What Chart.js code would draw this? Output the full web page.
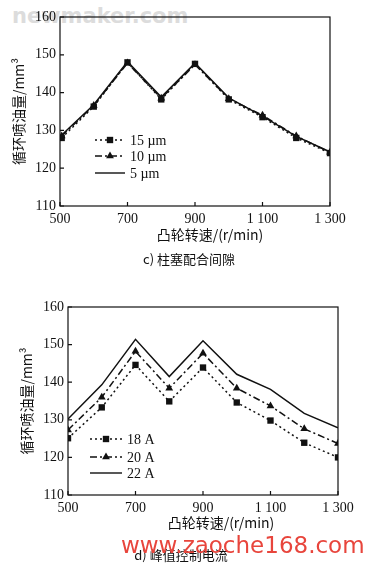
<!DOCTYPE html>
<html><head><meta charset="utf-8">
<script src="https://cdn.jsdelivr.net/npm/chart.js@4/dist/chart.umd.min.js"></script>
<style>
html,body{margin:0;padding:0;background:#fff;}
body{width:373px;height:565px;position:relative;overflow:hidden;}
.abs{position:absolute;white-space:nowrap;line-height:1;}
.ctr{transform:translate(-50%,-50%);}
canvas{position:absolute;left:0;}
</style></head><body>
<div class="abs" style="left:12px;top:4px;font:bold 21px 'DejaVu Sans';color:#dcdcdc;">newmaker.com</div>
<canvas id="c1" width="373" height="230" style="top:0px"></canvas>
<canvas id="c2" width="373" height="229" style="top:290px"></canvas>
<div class="abs ctr" style="left:210px;top:234px;font:14px 'Noto Sans CJK SC';color:#111;">凸轮转速/(r/min)</div>
<div class="abs ctr" style="left:189px;top:258px;font:13px 'Noto Sans CJK SC';color:#111;">c) 柱塞配合间隙</div>
<div class="abs ctr" style="left:221px;top:522px;font:14px 'Noto Sans CJK SC';color:#111;">凸轮转速/(r/min)</div>
<div class="abs ctr" style="left:181px;top:554px;font:13px 'Noto Sans CJK SC';color:#111;">d) 峰值控制电流</div>
<div class="abs" style="left:121px;top:532px;font:23px 'DejaVu Sans';color:#e8453c;">www.zaoche168.com</div>
<script>
// ---- data ----
const speedsC = [505, 600, 700, 800, 900, 1000, 1100, 1200, 1300];
const clearance15 = [128, 136.3, 148, 138.2, 147.6, 138.2, 133.5, 128, 124];
const clearance10 = [128.5, 136.6, 147.8, 138.5, 147.4, 138.4, 134, 128.5, 124.2];
const clearance5 = [128.8, 136.8, 148.2, 138.8, 147.8, 138.6, 133.8, 128.4, 124.3];
const speedsD = [500, 600, 700, 800, 900, 1000, 1100, 1200, 1300];
const current18 = [125.1, 133.3, 144.6, 134.9, 143.9, 134.6, 129.8, 123.9, 120];
const current20 = [127.3, 136, 148.2, 138.4, 147.7, 138.4, 133.7, 127.6, 123.7];
const current22 = [130.2, 139.3, 151.4, 141.5, 151, 142.1, 138.1, 131.7, 127.9];
const labelsC = ['15 µm', '10 µm', '5 µm'];
const labelsD = ['18 A', '20 A', '22 A'];
const xTickLabels = ['500', '700', '900', '1 100', '1 300'];
const yTitle = '循环喷油量/mm³';

const INK = '#111';
const styles = [
  {dash: [2, 3], point: 'rect'},
  {dash: [7, 3, 2, 3], point: 'triangle'},
  {dash: [], point: false}
];

function mkData(xs, ys) { return xs.map((x, i) => ({x: x, y: ys[i]})); }

function drawMarker(ctx, type, x, y, r) {
  ctx.save();
  ctx.fillStyle = INK;
  ctx.beginPath();
  if (type === 'rect') {
    const s = r * Math.SQRT1_2;
    ctx.rect(x - s, y - s, 2 * s, 2 * s);
  } else if (type === 'triangle') {
    ctx.moveTo(x, y - r);
    ctx.lineTo(x + r * 0.87, y + r * 0.5);
    ctx.lineTo(x - r * 0.87, y + r * 0.5);
    ctx.closePath();
  }
  ctx.fill();
  ctx.restore();
}

const framePlugin = {
  id: 'frame',
  afterDraw(chart, args, opts) {
    const {ctx, chartArea: a, scales} = chart;
    ctx.save();
    ctx.strokeStyle = INK;
    ctx.lineWidth = 1.2;
    ctx.strokeRect(a.left, a.top, a.right - a.left, a.bottom - a.top);
    ctx.beginPath();
    scales.x.ticks.forEach(t => {
      const px = scales.x.getPixelForValue(t.value);
      ctx.moveTo(px, a.bottom); ctx.lineTo(px, a.bottom - 4);
    });
    scales.y.ticks.forEach(t => {
      const py = scales.y.getPixelForValue(t.value);
      ctx.moveTo(a.left, py); ctx.lineTo(a.left + 4, py);
    });
    ctx.stroke();
    const L = opts;
    chart.data.datasets.forEach((ds, i) => {
      const y = L.rows[i];
      ctx.save();
      ctx.strokeStyle = INK;
      ctx.lineWidth = 1.4;
      ctx.setLineDash(ds.borderDash || []);
      ctx.beginPath();
      ctx.moveTo(L.x0, y); ctx.lineTo(L.x1, y);
      ctx.stroke();
      ctx.restore();
      if (ds.pointStyle && ds.pointRadius > 0) drawMarker(ctx, ds.pointStyle, (L.x0 + L.x1) / 2, y, ds.pointRadius);
      ctx.fillStyle = INK;
      ctx.font = "14px 'Liberation Serif'";
      ctx.textBaseline = 'middle';
      ctx.textAlign = 'left';
      ctx.fillText(ds.label, L.tx, y + 1);
    });
    ctx.restore();
  }
};

function makeChart(id, xs, series, labels, pad, legend) {
  const datasets = series.map((ys, i) => ({
    label: labels[i],
    data: mkData(xs, ys),
    borderColor: INK,
    backgroundColor: INK,
    borderWidth: 1.5,
    borderDash: styles[i].dash,
    pointStyle: styles[i].point || 'circle',
    pointRadius: styles[i].point ? 4.5 : 0,
    pointBorderWidth: 0,
    tension: 0
  }));
  return new Chart(document.getElementById(id), {
    type: 'line',
    data: {datasets},
    options: {
      responsive: false,
      animation: false,
      events: [],
      layout: {padding: pad},
      plugins: {legend: {display: false}, tooltip: {enabled: false}, frame: legend},
      scales: {
        x: {
          type: 'linear', min: 500, max: 1300,
          grid: {display: false, drawTicks: false},
          border: {display: false},
          ticks: {stepSize: 200, padding: 5, color: INK,
            font: {family: 'Liberation Serif', size: 14},
            callback: (v, i) => xTickLabels[i]},
          afterFit: s => { s.height = 24; }
        },
        y: {
          min: 110, max: 160,
          grid: {display: false, drawTicks: false},
          border: {display: false},
          ticks: {stepSize: 10, padding: 4, color: INK,
            font: {family: 'Liberation Serif', size: 14}},
          title: {display: true, text: yTitle, color: INK, padding: 0,
            font: {family: 'Noto Sans CJK SC', size: 14}},
          afterFit: s => { s.width = 50; }
        }
      }
    },
    plugins: [framePlugin]
  });
}

makeChart('c1', speedsC, [clearance15, clearance10, clearance5], labelsC,
  {top: 17, right: 43, left: 10, bottom: 0},
  {x0: 95, x1: 125, tx: 130, rows: [140, 156, 173]});
makeChart('c2', speedsD, [current18, current20, current22], labelsD,
  {top: 17, right: 35, left: 18, bottom: 0},
  {x0: 90, x1: 122, tx: 127, rows: [149, 167, 183]});
</script>
</body></html>
